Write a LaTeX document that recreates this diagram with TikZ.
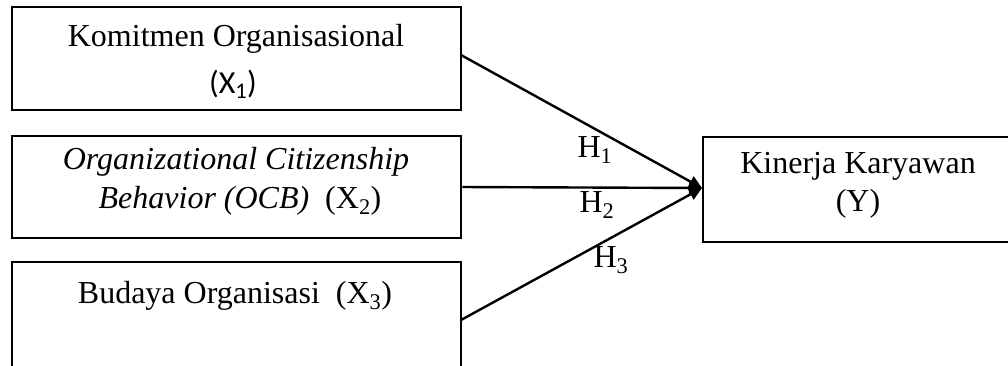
\documentclass[tikz,border=0pt]{standalone}
\usepackage{fontspec}
\setmainfont{Liberation Serif}
\newfontfamily\calfont{Carlito}
\usetikzlibrary{arrows.meta}
\begin{document}
\begin{tikzpicture}[x=1pt,y=-1pt,
  box/.style={draw=black,line width=2.6pt,rectangle,inner sep=0pt},
  txt/.style={inner sep=0pt,anchor=base,font=\fontsize{32}{38}\selectfont},
  conn/.style={draw=black,line width=2.4pt,-{Triangle[length=13pt,width=12pt]}}]
\clip (0,0) rectangle (1008,365);
\fill[white] (0,0) rectangle (1008,365);
% boxes
\node[box,minimum width=449pt,minimum height=103pt] (b1) at (236.5,58.5) {};
\node[box,minimum width=449pt,minimum height=102pt] (b2) at (236.5,187) {};
\node[box,minimum width=449pt,minimum height=138pt] (b3) at (236.5,331) {};
\node[box,minimum width=347pt,minimum height=105pt] (y) at (876.5,189.5) {};
% texts
\node[txt] (t1a) at (236,46) {Komitmen Organisasional};
\node[txt] (t1b) at (233,93) {\calfont (X\textsubscript{1})};
\node[txt] (t2a) at (236,169) {\itshape Organizational Citizenship};
\node[txt] (t2b) at (240,208) {\textit{Behavior (OCB)}\ \ (X\textsubscript{2})};
\node[txt] (t3) at (235,303) {Budaya Organisasi\ \ (X\textsubscript{3})};
\node[txt] (ty1) at (858,173) {Kinerja Karyawan};
\node[txt] (ty2) at (858,211) {(Y)};
% connectors
\coordinate (s1) at (461,55);
\coordinate (s3) at (461,320);
\coordinate (tip) at (702,188);
\draw[conn] (s1) -- (tip);
\draw[conn] (b2.east) -- (tip);
\draw[conn] (s3) -- (tip);
% labels
\node[txt] (h1) at (595,157) {H\textsubscript{1}};
\node[txt] (h2) at (597,212) {H\textsubscript{2}};
\node[txt] (h3) at (611,267) {H\textsubscript{3}};
\end{tikzpicture}
\end{document}
